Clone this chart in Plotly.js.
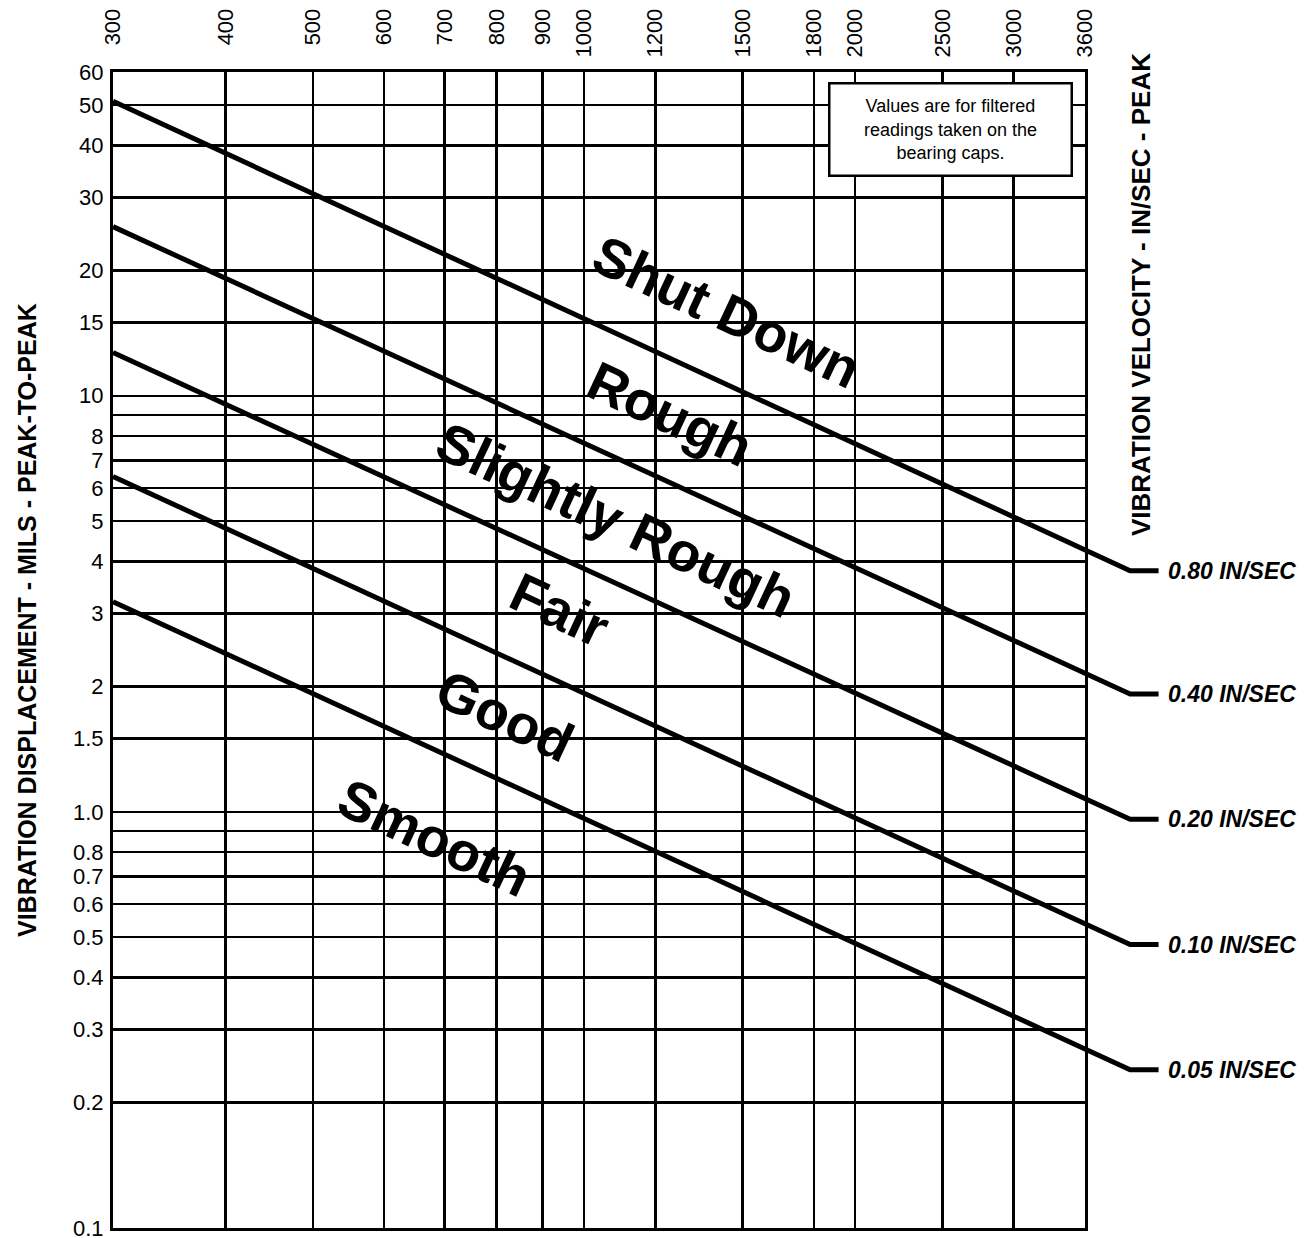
<!DOCTYPE html>
<html><head><meta charset="utf-8">
<script src="https://cdn.plot.ly/plotly-3.0.1.min.js"></script>
<style>html,body{margin:0;padding:0;background:#fff}</style>
</head><body><div id="chart" style="width:1316px;height:1238px"></div>
<script>
// ---- data ----
const rpmTicks = [300, 400, 500, 600, 700, 800, 900, 1000, 1200, 1500, 1800, 2000, 2500, 3000, 3600];
const rpmTickText = ['300', '400', '500', '600', '700', '800', '900', '1000', '1200', '1500', '1800', '2000', '2500', '3000', '3600'];
const milsTicks = [60, 50, 40, 30, 20, 15, 10, 9, 8, 7, 6, 5, 4, 3, 2, 1.5, 1, 0.9, 0.8, 0.7, 0.6, 0.5, 0.4, 0.3, 0.2, 0.1];
const milsTickText = ['60', '50', '40', '30', '20', '15', '10', '', '8', '7', '6', '5', '4', '3', '2', '1.5', '1.0', '', '0.8', '0.7', '0.6', '0.5', '0.4', '0.3', '0.2', '0.1'];
const velocityLabels = ['0.80 IN/SEC', '0.40 IN/SEC', '0.20 IN/SEC', '0.10 IN/SEC', '0.05 IN/SEC'];
const lineRpm = [300, 4040, 4345];          // start, bend, end of tail
const dispAtStart = [51, 25.5, 12.7, 6.4, 3.2];
const dispAtBend = [3.8, 1.92, 0.96, 0.48, 0.24];
const zoneNames = ['Shut Down', 'Rough', 'Slightly Rough', 'Fair', 'Good', 'Smooth'];
const zoneRpm = [1441, 1246, 1085, 940, 817, 683];
const zoneMils = [15.9, 9.04, 5.03, 3.05, 1.70, 0.865];
const noteText = 'Values are for filtered<br>readings taken on the<br>bearing caps.';
const leftTitle = 'VIBRATION DISPLACEMENT - MILS - PEAK-TO-PEAK';
const rightTitle = 'VIBRATION VELOCITY - IN/SEC - PEAK';

// ---- layout geometry ----
const W = 1316, H = 1238;
const M = {l: 113, r: 10, t: 72, b: 10};
const paperW = W - M.l - M.r;
const paperH = H - M.t - M.b;
const plotW = 972;
const lg = Math.log10;
const xRange = [lg(300), lg(3600)];
const pxPerDec = plotW / (xRange[1] - xRange[0]);
const x2Range = [xRange[0], xRange[0] + paperW / pxPerDec];
const yRange = [lg(0.1), lg(60)];
const FONT = 'Liberation Sans, Arial, Helvetica, sans-serif';

// top labels are aligned at their far end: pad shorter labels with no-break spaces
const maxLen = Math.max(...rpmTickText.map(s => s.length));
const rpmTickShown = rpmTickText.map(s => '\u00A0'.repeat(2 * (maxLen - s.length)) + s);

const traces = velocityLabels.map((name, i) => ({
  type: 'scatter', mode: 'lines', name: name,
  x: lineRpm, y: [dispAtStart[i], dispAtBend[i], dispAtBend[i]],
  xaxis: 'x2', yaxis: 'y2',
  line: {color: '#000', width: 5},
  hoverinfo: 'skip', showlegend: false
}));

const ann = [];
zoneNames.forEach((t, i) => ann.push({
  text: '<b>' + t + '</b>', x: lg(zoneRpm[i]), y: lg(zoneMils[i]), xref: 'x', yref: 'y',
  showarrow: false, textangle: 25, xanchor: 'center', yanchor: 'middle',
  font: {family: FONT, size: 55, color: '#000'}
}));
velocityLabels.forEach((t, i) => ann.push({
  text: '<b><i>' + t + '</i></b>', x: lg(lineRpm[2]), y: lg(dispAtBend[i]), xref: 'x2', yref: 'y2',
  showarrow: false, xanchor: 'left', yanchor: 'middle', xshift: 7,
  font: {family: FONT, size: 23, color: '#000'}
}));
ann.push({
  text: noteText, xref: 'paper', yref: 'paper',
  x: (950 - M.l) / paperW, y: (1228 - 129.5) / paperH,
  xanchor: 'center', yanchor: 'middle', showarrow: false,
  width: 240, height: 90, align: 'center', valign: 'middle',
  bgcolor: '#fff', bordercolor: '#000', borderwidth: 2.5, borderpad: 0,
  font: {family: FONT, size: 18, color: '#000'}
});
ann.push({
  text: '<b>' + leftTitle + '</b>', xref: 'paper', yref: 'paper',
  x: (27 - M.l) / paperW, y: (1228 - 620) / paperH,
  xanchor: 'center', yanchor: 'middle', showarrow: false, textangle: -90,
  font: {family: FONT, size: 25, color: '#000'}
});
ann.push({
  text: '<b>' + rightTitle + '</b>', xref: 'paper', yref: 'paper',
  x: (1141 - M.l) / paperW, y: (1228 - 295) / paperH,
  xanchor: 'center', yanchor: 'middle', showarrow: false, textangle: -90,
  font: {family: FONT, size: 26, color: '#000'}
});

const layout = {
  width: W, height: H, margin: M,
  paper_bgcolor: '#fff', plot_bgcolor: 'rgba(0,0,0,0)',
  showlegend: false, font: {family: FONT, color: '#000'},
  xaxis: {
    type: 'log', range: xRange, domain: [0, plotW / paperW], side: 'top', anchor: 'y',
    tickmode: 'array', tickvals: rpmTicks, ticktext: rpmTickShown, tickangle: -90,
    tickfont: {family: FONT, size: 22, color: '#000'}, ticks: '', ticklabelstandoff: 7,
    ticklabeloverflow: 'allow',
    showgrid: true, gridcolor: '#000', gridwidth: 2.5,
    showline: true, linecolor: '#000', linewidth: 3, mirror: true, zeroline: false, fixedrange: true
  },
  yaxis: {
    type: 'log', range: yRange, domain: [0, 1], anchor: 'x',
    tickmode: 'array', tickvals: milsTicks, ticktext: milsTickText,
    tickfont: {family: FONT, size: 22, color: '#000'}, ticks: '', ticklabelstandoff: 2,
    ticklabeloverflow: 'allow',
    showgrid: true, gridcolor: '#000', gridwidth: 2.5,
    showline: true, linecolor: '#000', linewidth: 3, mirror: true, zeroline: false, fixedrange: true
  },
  xaxis2: {type: 'log', range: x2Range, domain: [0, 1], anchor: 'y2', visible: false, fixedrange: true},
  yaxis2: {type: 'log', range: yRange, domain: [0, 1], anchor: 'x2', visible: false, fixedrange: true},
  annotations: ann
};

Plotly.newPlot('chart', traces, layout, {staticPlot: true, displayModeBar: false});
</script></body></html>
